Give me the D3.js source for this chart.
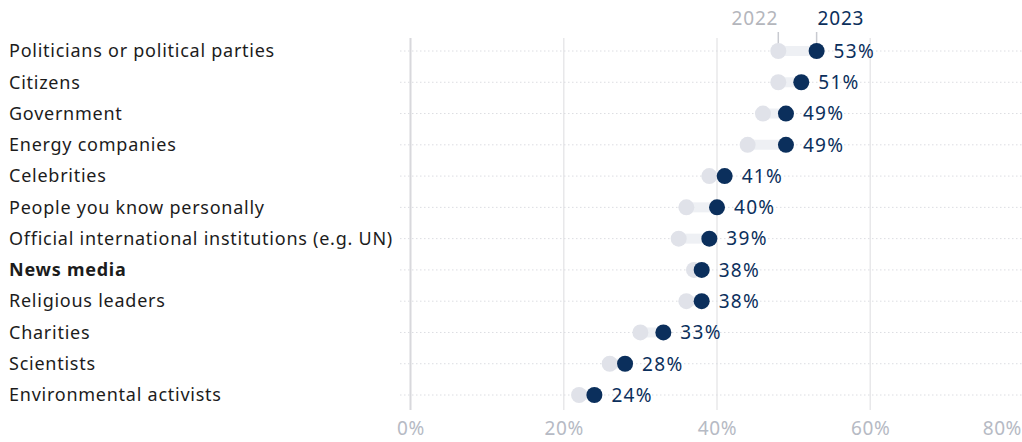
<!DOCTYPE html>
<html><head><meta charset="utf-8">
<script src="https://cdn.jsdelivr.net/npm/d3@7"></script>
<style>
html,body{margin:0;padding:0;background:#fff;}
text{font-family:"Noto Sans","Open Sans",sans-serif;}
</style></head>
<body><svg id="c" width="1022" height="442"></svg>
<script>
const categories = ["Politicians or political parties","Citizens","Government","Energy companies","Celebrities","People you know personally","Official international institutions (e.g. UN)","News media","Religious leaders","Charities","Scientists","Environmental activists"];
const values2022 = [48,48,46,44,39,36,35,37,36,30,26,22];
const values2023 = [53,51,49,49,41,40,39,38,38,33,28,24];
const tickValues = [0,20,40,60,80];
const highlight = "News media";

const svg = d3.select("#c");
const x = d3.scaleLinear().domain([0,80]).range([410.5,1023.5]);
const y = d3.scalePoint().domain(categories).range([51,395]);
const navy = "#0b2f5c", light = "#e0e2e9", conn = "#eef0f4";

// vertical gridlines
svg.append("g").selectAll("line").data(tickValues).join("line")
  .attr("x1",d=>x(d)).attr("x2",d=>x(d)).attr("y1",38).attr("y2",410)
  .attr("stroke",d=>d===0?"#d8d8dc":"#e8e8ea").attr("stroke-width",d=>d===0?2:1.5);

// horizontal dotted lines
svg.append("g").selectAll("line").data(categories).join("line")
  .attr("x1",400).attr("x2",1022).attr("y1",d=>y(d)).attr("y2",d=>y(d))
  .attr("stroke","#dcdde2").attr("stroke-width",1).attr("stroke-dasharray","1.5,2.5");

// axis
const axis = svg.append("g").attr("transform","translate(0,421)")
  .call(d3.axisBottom(x).tickValues(tickValues).tickFormat(d=>d+"%").tickSize(0));
axis.select(".domain").remove();
axis.selectAll("text").attr("fill","#b6bac4").style("font-size","19px")
  .style("letter-spacing","0.6px")
  .style("font-family","'Noto Sans',sans-serif").attr("dy","0.6em")
  .attr("text-anchor",d=>d===80?"end":"middle")
  .attr("x",d=>d===80?-2:0);

// category labels
svg.append("g").selectAll("text").data(categories).join("text")
  .attr("x",9).attr("y",d=>y(d)).attr("dy","0.35em")
  .attr("fill","#1c1c1c").style("font-size","18px").style("letter-spacing","0.75px")
  .style("font-weight",d=>d===highlight?"bold":"normal")
  .text(d=>d);

// connectors
svg.append("g").selectAll("line").data(categories).join("line")
  .attr("x1",(d,i)=>x(values2022[i])).attr("x2",(d,i)=>x(values2023[i]))
  .attr("y1",d=>y(d)).attr("y2",d=>y(d))
  .attr("stroke",conn).attr("stroke-width",10);

// legend ticks
svg.append("line").attr("x1",x(values2022[0])).attr("x2",x(values2022[0])).attr("y1",32).attr("y2",y(categories[0])-7).attr("stroke","#c8cad0").attr("stroke-width",1.5);
svg.append("line").attr("x1",x(values2023[0])).attr("x2",x(values2023[0])).attr("y1",32).attr("y2",y(categories[0])-7).attr("stroke","#c8cad0").attr("stroke-width",1.5);
svg.append("text").attr("x",x(values2022[0])).attr("y",25).attr("text-anchor","end")
  .attr("fill","#b4b6bc").style("font-size","19px").style("letter-spacing","0.8px").text("2022");
svg.append("text").attr("x",x(values2023[0])+1).attr("y",25).attr("text-anchor","start")
  .attr("fill",navy).style("font-size","19px").style("letter-spacing","0.8px").text("2023");

// dots
svg.append("g").selectAll("circle").data(categories).join("circle")
  .attr("cx",(d,i)=>x(values2022[i])).attr("cy",d=>y(d)).attr("r",8).attr("fill",light);
svg.append("g").selectAll("circle").data(categories).join("circle")
  .attr("cx",(d,i)=>x(values2023[i])).attr("cy",d=>y(d)).attr("r",8).attr("fill",navy);

// value labels
svg.append("g").selectAll("text").data(categories).join("text")
  .attr("x",(d,i)=>x(values2023[i])+17).attr("y",d=>y(d)).attr("dy","0.36em")
  .attr("fill",navy).style("font-size","19px").style("letter-spacing","1.3px").text((d,i)=>values2023[i]+"%");
</script></body></html>
